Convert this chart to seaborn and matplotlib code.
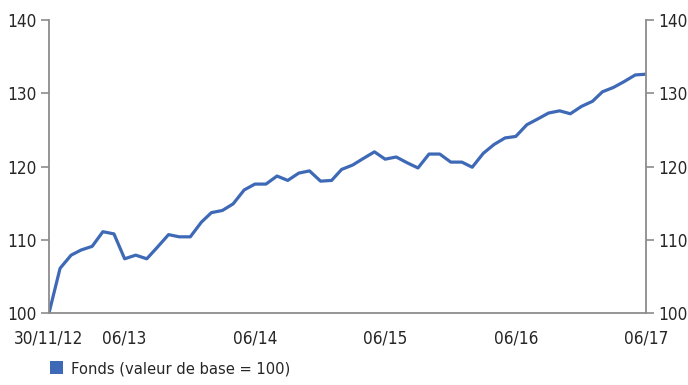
import matplotlib
matplotlib.use("Agg")
import matplotlib.pyplot as plt
from matplotlib.patches import Patch
import pandas as pd
import seaborn as sns

# Monthly fund value, base 100 at 30/11/2012
dates = pd.date_range("2012-11-30", periods=56, freq="ME")
values = [
    100.0, 106.1, 107.9, 108.6, 109.1, 111.1, 110.8, 107.4, 107.9, 107.4,
    109.0, 110.7, 110.4, 110.4, 112.4, 113.7, 114.0, 114.9, 116.8, 117.6,
    117.6, 118.7, 118.1, 119.1, 119.4, 118.0, 118.1, 119.6, 120.2, 121.1,
    122.0, 121.0, 121.3, 120.5, 119.8, 121.7, 121.7, 120.6, 120.6, 119.9,
    121.8, 123.0, 123.9, 124.1, 125.7, 126.5, 127.3, 127.6, 127.2, 128.2,
    128.9, 130.2, 130.8, 131.6, 132.5, 132.6,
]
tick_dates = pd.to_datetime(["2012-11-30", "2013-06-30", "2014-06-30",
                             "2015-06-30", "2016-06-30", "2017-06-30"])
tick_labels = ["30/11/12", "06/13", "06/14", "06/15", "06/16", "06/17"]
y_ticks = [100, 110, 120, 130, 140]
series_name = "Fonds (valeur de base = 100)"

df = pd.DataFrame({"date": dates, "value": values})

sns.set_style("white")
plt.rcParams["font.family"] = ["DejaVu Sans"]
plt.rcParams["font.stretch"] = "condensed"

line_color = "#3E69B6"
axis_color = "#8C8C8C"
text_color = "#262626"

fig = plt.figure(figsize=(6.88, 3.85), dpi=100)
ax = fig.add_axes([49 / 688, 1 - 313 / 385, (646 - 49) / 688, (313 - 20) / 385])

sns.lineplot(data=df, x="date", y="value", ax=ax, color=line_color,
             linewidth=2.3, legend=False)

ax.set_xlim(dates[0], dates[-1])
ax.set_ylim(100, 140)
ax.set_xlabel("")
ax.set_ylabel("")

ax.set_xticks(tick_dates)
ax.set_xticklabels(tick_labels)
ax.set_yticks(y_ticks)

for side in ("left", "bottom", "right"):
    ax.spines[side].set_visible(True)
    ax.spines[side].set_color(axis_color)
    ax.spines[side].set_linewidth(1.3)
ax.spines["top"].set_visible(False)

ax.tick_params(axis="y", which="both", left=True, right=True,
               labelleft=True, labelright=True, direction="out",
               length=6, width=1.2, color=axis_color,
               labelsize=12.3, labelcolor=text_color, pad=3)
ax.tick_params(axis="x", direction="out", length=5, width=1.2,
               color=axis_color, labelsize=12.3, labelcolor=text_color, pad=7)

# no tick mark under the start date label
ax.xaxis.get_major_ticks()[0].tick1line.set_visible(False)

handle = Patch(facecolor=line_color, edgecolor="none")
fig.legend([handle], [series_name], loc="lower left",
           bbox_to_anchor=(40 / 688, -1 / 385), frameon=False,
           fontsize=11.8, handlelength=0.8, handleheight=0.8,
           handletextpad=0.5, borderaxespad=0.2,
           labelcolor=text_color)

fig.savefig("out.png", dpi=100)
